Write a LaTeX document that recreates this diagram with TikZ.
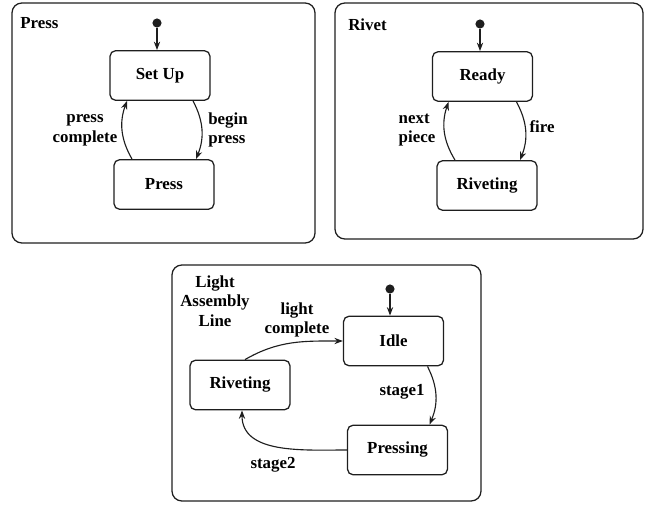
\documentclass[tikz,border=0pt]{standalone}
\usepackage{fontspec}
\setmainfont{Liberation Serif}
\usepackage{xcolor}
\usetikzlibrary{arrows.meta,calc}
\definecolor{ink}{RGB}{30,30,30}

\begin{document}
\begin{tikzpicture}[
  x=0.025cm, y=-0.025cm,
  font=\fontsize{12}{14}\selectfont\bfseries,
  frame/.style={draw=ink, line width=0.9pt, rounded corners=7pt},
  state/.style={draw=ink, line width=0.9pt, rounded corners=4pt, minimum width=2.5cm, minimum height=1.24cm, align=center},
  init/.style={circle, fill=ink, inner sep=0pt, minimum size=6.5pt},
  lbl/.style={align=center, inner sep=0pt},
  arr/.style={-{Stealth[length=6pt,width=4.5pt]}, line width=0.8pt, ink}
]
\useasboundingbox (0,0) rectangle (645,505);

\draw[frame] (12,3) rectangle (315,243);
\draw[frame] (335,3) rectangle (643,239);
\draw[frame] (172,265) rectangle (481,501);

\node[lbl, anchor=west] (tpress) at (20,23) {Press};
\node[lbl, anchor=west] (trivet) at (348,25) {Rivet};
\node[lbl] (tline) at (215,301) {Light\\Assembly\\Line};

\node[init] (i1) at (157,23) {};
\node[state] (setup) at (160,75.5) {Set Up};
\node[state] (press) at (164,184.5) {Press};
\draw[arr] (i1) -- (setup.north -| i1);
\draw[arr] ($(press.north)+(-32,0)$) to[bend left=25] ($(setup.south)+(-33,0)$);
\draw[arr] ($(setup.south)+(33,0)$) to[bend left=25] ($(press.north)+(32,0)$);
\node[lbl] (lpc) at (85,130) {press\\complete};
\node[lbl, align=left] (lbp) at (228,130) {begin\\press};

\node[init] (i2) at (480,24) {};
\node[state] (ready) at (482.5,76.5) {Ready};
\node[state] (rivet) at (487,185.5) {Riveting};
\draw[arr] (i2) -- (ready.north -| i2);
\draw[arr] ($(rivet.north)+(-32,0)$) to[bend left=25] ($(ready.south)+(-34,0)$);
\draw[arr] ($(ready.south)+(34,0)$) to[bend left=25] ($(rivet.north)+(33,0)$);
\node[lbl, align=left] (lnp) at (417,130) {next\\piece};
\node[lbl] (lfire) at (542,127) {fire};

\node[init] (i3) at (390,289) {};
\node[state] (idle) at (393.5,341) {Idle};
\node[state] (rivet2) at (240,385) {Riveting};
\node[state] (pressing) at (397.5,450) {Pressing};
\draw[arr] (i3) -- (idle.north -| i3);
\draw[arr] ($(rivet2.north)+(5,0)$) to[out=30,in=180] (idle.west);
\draw[arr] ($(idle.south)+(34,0)$) to[bend left=25] ($(pressing.north)+(32,0)$);
\draw[arr] (pressing.west) to[out=180,in=-90] ($(rivet2.south)+(2,0)$);
\node[lbl] (llc) at (297,320) {light\\complete};
\node[lbl] (ls1) at (402,392) {stage1};
\node[lbl] (ls2) at (273,465) {stage2};
\end{tikzpicture}
\end{document}
